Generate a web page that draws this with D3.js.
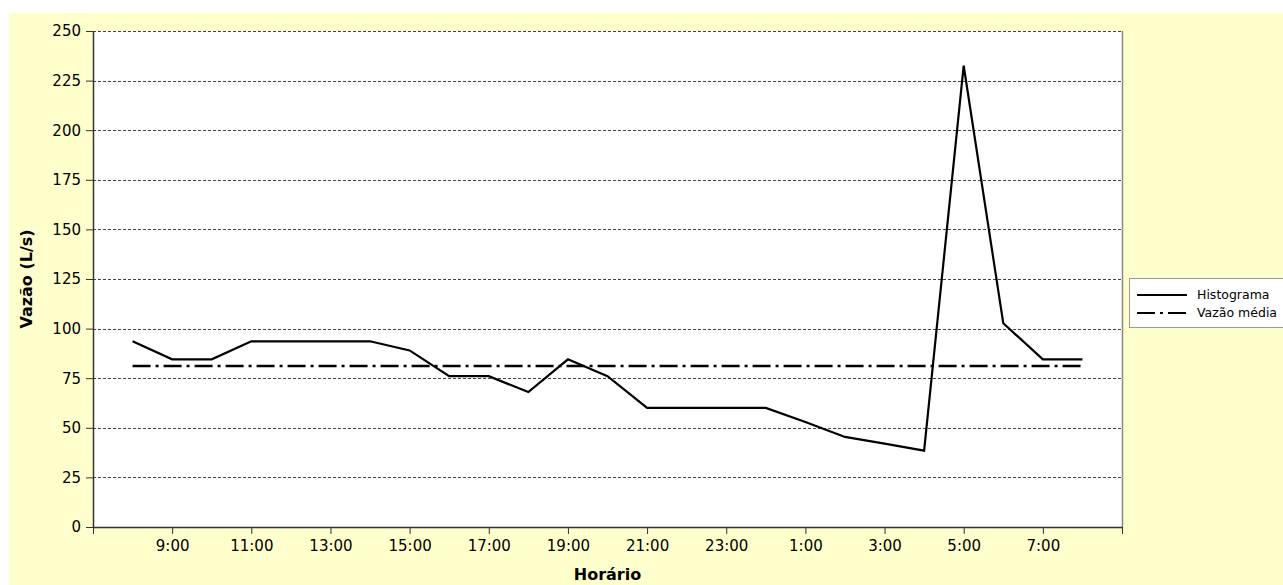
<!DOCTYPE html>
<html>
<head>
<meta charset="utf-8">
<script src="https://cdn.jsdelivr.net/npm/d3@7"></script>
<style>
  html, body { margin: 0; padding: 0; background: #ffffff; }
  svg { display: block; }
  text { font-family: "DejaVu Sans", sans-serif; fill: #000; }
</style>
</head>
<body>
<svg id="chart" width="1283" height="585"></svg>
<script>
// ---- data ----
const hours = [8, 9, 10, 11, 12, 13, 14, 15, 16, 17, 18, 19, 20, 21, 22, 23, 24, 25, 26, 27, 28, 29, 30, 31, 32];
const histograma = [93.6, 84.5, 84.5, 93.6, 93.6, 93.6, 93.6, 89.0, 76.0, 76.0, 68.0, 84.5, 76.0, 60.0, 60.0, 60.0, 60.0, 52.9, 45.4, 42.0, 38.5, 232.5, 102.7, 84.5, 84.5];
const vazaoMedia = [81.2, 81.2, 81.2, 81.2, 81.2, 81.2, 81.2, 81.2, 81.2, 81.2, 81.2, 81.2, 81.2, 81.2, 81.2, 81.2, 81.2, 81.2, 81.2, 81.2, 81.2, 81.2, 81.2, 81.2, 81.2];
const xTicks = [7, 9, 11, 13, 15, 17, 19, 21, 23, 25, 27, 29, 31, 33];
const xTickLabels = ["", "9:00", "11:00", "13:00", "15:00", "17:00", "19:00", "21:00", "23:00", "1:00", "3:00", "5:00", "7:00", ""];
const yTicks = [0, 25, 50, 75, 100, 125, 150, 175, 200, 225, 250];
const seriesNames = ["Histograma", "Vazão média"];

// ---- layout ----
const svg = d3.select("#chart");
const plot = { left: 93, top: 31, right: 1122, bottom: 527 };
const DASHDOT = "18,5,3,5";

svg.append("rect").attr("x", 9).attr("y", 13).attr("width", 1283 - 9).attr("height", 585 - 13)
  .attr("fill", "#ffffcc");

const x = d3.scaleLinear().domain([7, 33]).range([plot.left, plot.right]);
const y = d3.scaleLinear().domain([0, 250]).range([plot.bottom, plot.top]);

svg.append("rect").attr("x", plot.left).attr("y", plot.top)
  .attr("width", plot.right - plot.left).attr("height", plot.bottom - plot.top)
  .attr("fill", "#ffffff");

// gridlines
svg.append("g").selectAll("line").data(yTicks.filter(d => d > 0)).join("line")
  .attr("x1", plot.left).attr("x2", plot.right)
  .attr("y1", d => Math.round(y(d)) + 0.5).attr("y2", d => Math.round(y(d)) + 0.5)
  .attr("stroke", "#444").attr("stroke-width", 1).attr("stroke-dasharray", "3,2");

// right border
svg.append("line").attr("x1", plot.right + 0.5).attr("x2", plot.right + 0.5)
  .attr("y1", plot.top).attr("y2", plot.bottom).attr("stroke", "#888").attr("stroke-width", 1.5);

// y axis
const yAxis = d3.axisLeft(y).tickValues(yTicks).tickSize(7).tickPadding(5).tickSizeOuter(0);
const gy = svg.append("g").attr("transform", `translate(${plot.left},0)`).call(yAxis);
gy.select(".domain").attr("stroke", "#333").attr("stroke-width", 1.5);
gy.selectAll(".tick line").attr("stroke", "#333");
gy.selectAll(".tick text").style("font-family", "DejaVu Sans").style("font-size", "15px").attr("fill", "#000");

// x axis
const xAxis = d3.axisBottom(x).tickValues(xTicks).tickSize(7).tickPadding(6).tickSizeOuter(0)
  .tickFormat((d, i) => xTickLabels[i]);
const gx = svg.append("g").attr("transform", `translate(0,${plot.bottom})`).call(xAxis);
gx.select(".domain").attr("stroke", "#333").attr("stroke-width", 1.5);
gx.selectAll(".tick line").attr("stroke", "#333");
gx.selectAll(".tick text").style("font-family", "DejaVu Sans").style("font-size", "15px").attr("fill", "#000");

// series
const line = d3.line().x((d, i) => x(hours[i])).y(d => y(d));
svg.append("path").datum(vazaoMedia).attr("d", line)
  .attr("fill", "none").attr("stroke", "#000").attr("stroke-width", 2.5)
  .attr("stroke-dasharray", DASHDOT);
svg.append("path").datum(histograma).attr("d", line)
  .attr("fill", "none").attr("stroke", "#000").attr("stroke-width", 2.2)
  .attr("stroke-linejoin", "miter");

// axis titles
svg.append("text").attr("x", (plot.left + plot.right) / 2).attr("y", 580)
  .attr("text-anchor", "middle").style("font-weight", "bold").style("font-size", "16px")
  .text("Horário");
svg.append("text").attr("transform", `translate(32,${(plot.top + plot.bottom) / 2}) rotate(-90)`)
  .attr("text-anchor", "middle").style("font-weight", "bold").style("font-size", "16px")
  .text("Vazão (L/s)");

// legend
const lg = svg.append("g");
lg.append("rect").attr("x", 1129.5).attr("y", 278.5).attr("width", 160).attr("height", 49)
  .attr("fill", "#ffffff").attr("stroke", "#999").attr("stroke-width", 1);
const legendDash = [null, DASHDOT];
seriesNames.forEach((name, i) => {
  const cy = 295 + i * 18;
  lg.append("line").attr("x1", 1137).attr("x2", 1187).attr("y1", cy).attr("y2", cy)
    .attr("stroke", "#000").attr("stroke-width", 2.2)
    .attr("stroke-dasharray", legendDash[i]);
  lg.append("text").attr("x", 1197).attr("y", cy).attr("dy", "0.35em")
    .style("font-size", "12.5px").text(name);
});
</script>
</body>
</html>
